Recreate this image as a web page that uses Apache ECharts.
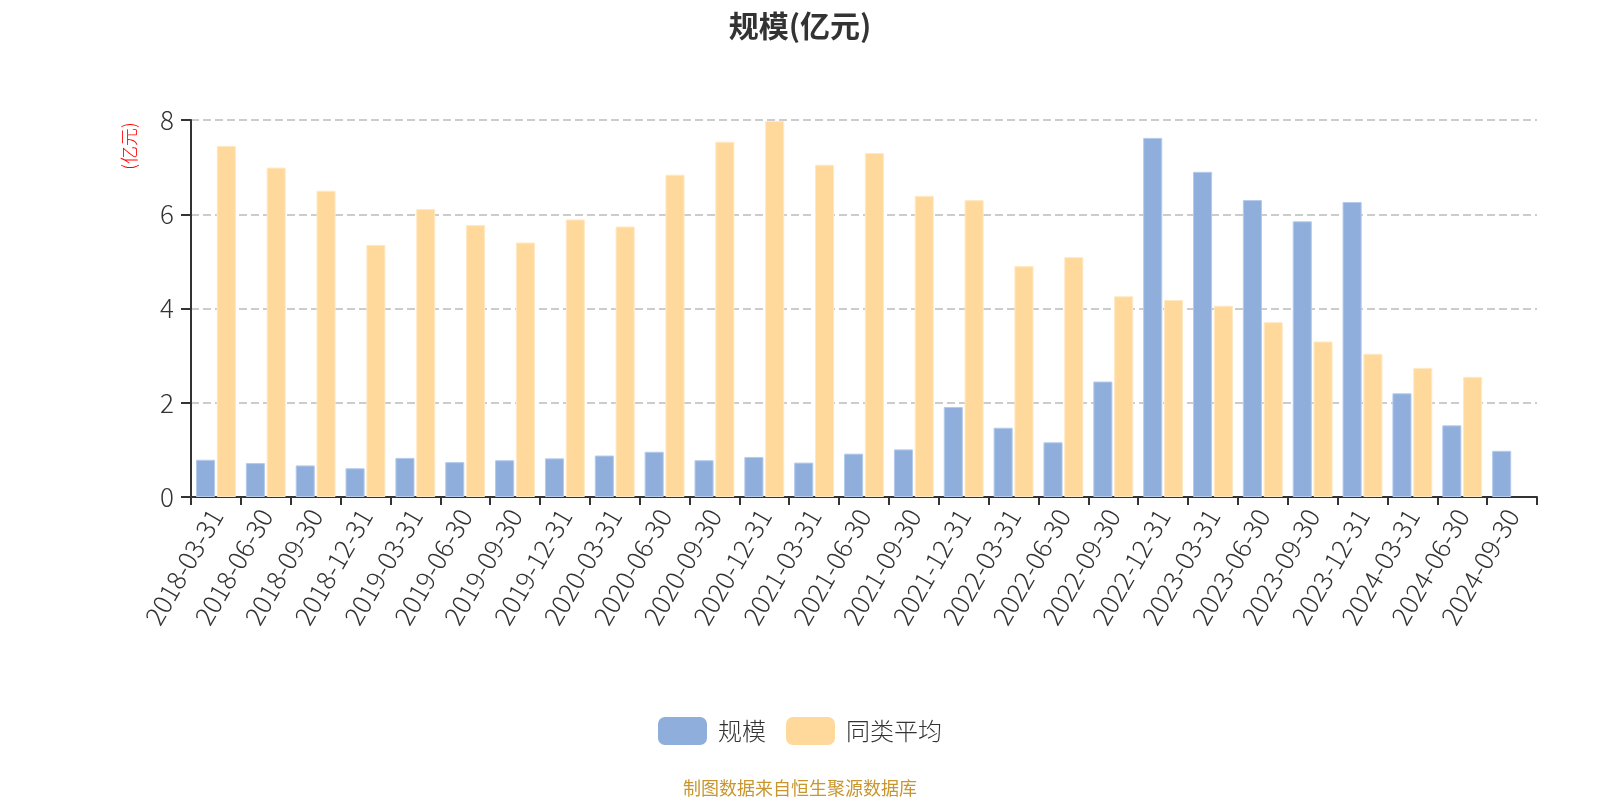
<!DOCTYPE html>
<html>
<head>
<meta charset="utf-8">
<script src="https://cdn.jsdelivr.net/npm/echarts@6/dist/echarts.min.js"></script>
<style>
html, body { margin: 0; padding: 0; background: #fff; }
#chart { width: 1600px; height: 800px; }
</style>
</head>
<body>
<div id="chart"></div>
<script>
var dates = ['2018-03-31', '2018-06-30', '2018-09-30', '2018-12-31', '2019-03-31', '2019-06-30', '2019-09-30',
    '2019-12-31', '2020-03-31', '2020-06-30', '2020-09-30', '2020-12-31', '2021-03-31', '2021-06-30',
    '2021-09-30', '2021-12-31', '2022-03-31', '2022-06-30', '2022-09-30', '2022-12-31', '2023-03-31',
    '2023-06-30', '2023-09-30', '2023-12-31', '2024-03-31', '2024-06-30', '2024-09-30'];
var scale = [0.79, 0.72, 0.67, 0.61, 0.83, 0.74, 0.78, 0.82, 0.88, 0.96, 0.78, 0.85, 0.73, 0.92,
    1.01, 1.91, 1.47, 1.16, 2.45, 7.62, 6.90, 6.30, 5.85, 6.26, 2.20, 1.52, 0.98];
var peerAvg = [7.45, 6.99, 6.50, 5.35, 6.11, 5.77, 5.40, 5.89, 5.74, 6.84, 7.54, 7.98, 7.05, 7.30,
    6.39, 6.30, 4.90, 5.09, 4.26, 4.18, 4.06, 3.71, 3.30, 3.04, 2.74, 2.55, null];
var yTicks = [0, 2, 4, 6, 8];

var chart = echarts.init(document.getElementById('chart'));
var font = 'Noto Sans CJK SC';
var option = {
    textStyle: { fontFamily: font },
    title: {
        text: '规模(亿元)',
        left: 'center',
        top: 6,
        textStyle: { fontSize: 30, fontWeight: 'bold', color: '#333', fontFamily: font }
    },
    legend: {
        bottom: 50,
        left: 'center',
        itemWidth: 49,
        itemHeight: 28,
        itemGap: 20,
        icon: 'roundRect',
        itemStyle: { borderWidth: 0 },
        textStyle: { fontSize: 24, color: '#333', fontWeight: 300, fontFamily: font, padding: [0, 0, 0, 6] },
        data: ['规模', '同类平均']
    },
    grid: { left: 191, right: 63, top: 120, bottom: 303 },
    xAxis: {
        type: 'category',
        data: dates,
        axisLine: { lineStyle: { color: '#333', width: 2 } },
        axisTick: { show: true, length: 8, lineStyle: { color: '#333', width: 2 } },
        axisLabel: { rotate: 60, fontSize: 26, fontWeight: 300, color: '#333', interval: 0, margin: 14 }
    },
    yAxis: {
        type: 'value',
        min: yTicks[0],
        max: yTicks[yTicks.length - 1],
        interval: 2,
        axisLine: { show: true, lineStyle: { color: '#333', width: 2 } },
        axisTick: { show: true, length: 10, lineStyle: { color: '#333', width: 2 } },
        axisLabel: { fontSize: 26, fontWeight: 300, color: '#333', margin: 17 },
        splitLine: { lineStyle: { type: 'dashed', color: '#ccc', width: 2 } }
    },
    series: [{
        name: '规模',
        type: 'bar',
        data: scale,
        barGap: '9%',
        barCategoryGap: '20%',
        itemStyle: { color: '#8faedb', borderColor: '#b4cbec', borderWidth: 1 }
    }, {
        name: '同类平均',
        type: 'bar',
        data: peerAvg,
        itemStyle: { color: '#ffd99c', borderColor: '#ffe9c4', borderWidth: 1 }
    }],
    graphic: [{
        type: 'text',
        x: 129,
        y: 146,
        rotation: Math.PI / 2,
        style: {
            text: '(亿元)',
            fill: '#ff0000',
            font: '300 18px "Noto Sans CJK SC"',
            textAlign: 'center',
            textVerticalAlign: 'middle'
        }
    }, {
        type: 'text',
        x: 800,
        y: 788,
        style: {
            text: '制图数据来自恒生聚源数据库',
            fill: '#c8962e',
            font: '18px "Noto Sans CJK SC"',
            textAlign: 'center',
            textVerticalAlign: 'middle'
        }
    }]
};
chart.setOption(option);
</script>
</body>
</html>
